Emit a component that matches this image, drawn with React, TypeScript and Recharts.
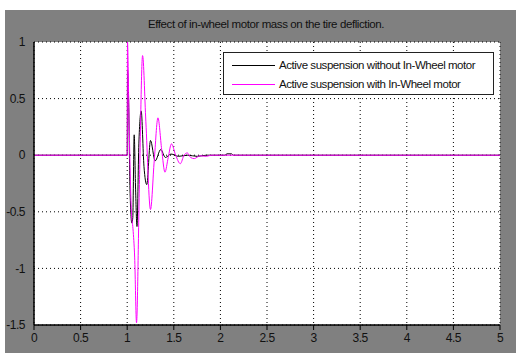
import { LineChart, Line, XAxis, YAxis, CartesianGrid, Legend } from 'recharts';

const xTicks = [0, 0.5, 1, 1.5, 2, 2.5, 3, 3.5, 4, 4.5, 5];
const yTicks = [-1.5, -1, -0.5, 0, 0.5, 1];

// time samples / deflection
const tWithout = [0, 1.0, 1.004, 1.015, 1.03, 1.05, 1.06, 1.075, 1.09, 1.105, 1.125, 1.15, 1.18, 1.21, 1.25, 1.3, 1.36, 1.41, 1.47, 1.55, 1.65, 1.75, 1.85, 2.05, 2.07, 2.12, 2.14, 5];
const yWithout = [0, 0, 0.75, 0.5, -0.3, -0.6, -0.55, 0.18, -0.3, -0.63, 0.1, 0.39, -0.1, -0.26, 0.13, -0.05, 0.05, -0.02, 0.01, -0.01, 0, -0.01, 0, 0, 0.012, 0.012, 0, 0];

const tWith = [0, 1.0, 1.003, 1.02, 1.045, 1.062, 1.08, 1.1, 1.13, 1.165, 1.2, 1.25, 1.29, 1.33, 1.37, 1.405, 1.44, 1.475, 1.52, 1.57, 1.61, 1.645, 1.68, 1.72, 1.78, 1.85, 1.9, 5];
const yWith = [0, 0, 1.0, 0.3, -0.5, -0.65, -0.9, -1.48, -0.3, 0.88, 0.3, -0.48, -0.05, 0.33, 0.05, -0.15, -0.02, 0.1, 0, -0.075, 0, 0.02, -0.02, -0.03, -0.005, -0.01, 0, 0];

const seriesNames = ['Active suspension without In-Wheel motor', 'Active suspension with In-Wheel motor'];

const withoutData = tWithout.map((t, i) => ({ t, v: yWithout[i] }));
const withData = tWith.map((t, i) => ({ t, v: yWith[i] }));

const font = 'Arial, "Liberation Sans", sans-serif';

const LegendBox = ({ payload }: any) => {
  // keep the legend in the same order as the original figure
  const items = [...(payload || [])].sort((a: any, b: any) => seriesNames.indexOf(a.value) - seriesNames.indexOf(b.value));
  return (
    <div
      style={{
        position: 'absolute',
        left: 223,
        top: 52,
        width: 271,
        height: 43,
        background: '#fff',
        border: '1px solid #222',
        boxSizing: 'border-box',
        fontFamily: font,
        fontSize: 11.5,
        letterSpacing: -0.45,
        color: '#111',
      }}
    >
      {items.map((p: any, i: number) => (
        <div key={i} style={{ position: 'absolute', left: 8, top: 4 + i * 19, height: 16, display: 'flex', alignItems: 'center' }}>
          <span style={{ display: 'inline-block', width: 43, height: 0, borderTop: `1px solid ${p.color}`, marginRight: 4 }} />
          <span style={{ whiteSpace: 'nowrap' }}>{p.value}</span>
        </div>
      ))}
    </div>
  );
};

export default function App() {
  return (
    <div style={{ position: 'absolute', left: 0, top: 0, width: 516, height: 353, background: '#fff' }}>
      <div style={{ position: 'absolute', left: 5, top: 10, width: 511, height: 343, background: '#808080' }} />
      <div
        style={{
          position: 'absolute',
          left: 0,
          top: 18,
          width: 532,
          textAlign: 'center',
          fontFamily: font,
          fontSize: 11.5,
          letterSpacing: -0.4,
          color: '#111',
        }}
      >
        Effect of in-wheel motor mass on the tire defliction.
      </div>
      <LineChart width={516} height={353} margin={{ top: 42, right: 16, bottom: 0, left: 4 }} style={{ position: 'absolute', left: 0, top: 0 }}>
        <CartesianGrid xAxisId="b" yAxisId="l" fill="#fff" stroke="#000" strokeDasharray="1 3" />
        <XAxis
          xAxisId="b"
          type="number"
          dataKey="t"
          domain={[0, 5]}
          ticks={xTicks}
          height={28}
          interval={0}
          allowDataOverflow
          axisLine={{ stroke: '#000', strokeWidth: 1.5 }}
          tickLine={{ stroke: '#000' }}
          tickSize={5}
          tickMargin={3}
          tick={{ fill: '#111', fontSize: 12, fontFamily: font, letterSpacing: -0.5 }}
        />
        <XAxis
          xAxisId="t"
          orientation="top"
          type="number"
          dataKey="t"
          domain={[0, 5]}
          ticks={xTicks}
          height={0}
          axisLine={{ stroke: '#000', strokeWidth: 1.5 }}
          tick={false}
        />
        <YAxis
          yAxisId="l"
          type="number"
          domain={[-1.5, 1]}
          ticks={yTicks}
          width={30}
          interval={0}
          allowDataOverflow
          axisLine={{ stroke: '#000', strokeWidth: 1.5 }}
          tickLine={false}
          tickMargin={3}
          tick={{ fill: '#111', fontSize: 12, fontFamily: font, letterSpacing: -0.5 }}
        />
        <YAxis
          yAxisId="r"
          orientation="right"
          type="number"
          domain={[-1.5, 1]}
          ticks={yTicks}
          width={0}
          axisLine={{ stroke: '#000', strokeWidth: 1.5 }}
          tick={false}
        />
        <Legend content={<LegendBox />} wrapperStyle={{ position: 'absolute', left: 0, top: 0, width: 0, height: 0 }} />
        <Line
          xAxisId="b"
          yAxisId="l"
          data={withoutData}
          dataKey="v"
          name={seriesNames[0]}
          type="monotone"
          stroke="#000"
          strokeWidth={1}
          dot={false}
          isAnimationActive={false}
          legendType="line"
        />
        <Line
          xAxisId="b"
          yAxisId="l"
          data={withData}
          dataKey="v"
          name={seriesNames[1]}
          type="monotone"
          stroke="#ff00ff"
          strokeWidth={1}
          dot={false}
          isAnimationActive={false}
          legendType="line"
        />
      </LineChart>
    </div>
  );
}
